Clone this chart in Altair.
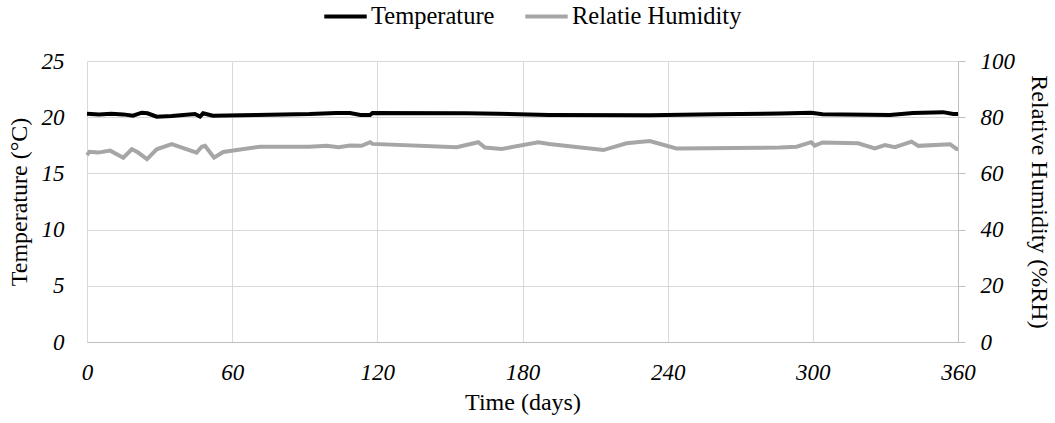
import altair as alt
import pandas as pd

temp_days = [0, 5, 10, 15, 19, 22.6, 25, 28.8, 35, 44.6, 46.7, 48, 52, 70, 92, 103, 108.7, 113, 117, 118,
             157, 170, 191, 232.6, 260, 286.4, 299.3, 304, 331.8, 341.4, 353.8, 358, 360]
temp_vals = [20.3, 20.25, 20.3, 20.25, 20.13, 20.4, 20.35, 20.05, 20.1, 20.28, 20.05, 20.35, 20.13, 20.2, 20.28,
             20.38, 20.38, 20.2, 20.2, 20.38, 20.36, 20.3, 20.2, 20.17, 20.27, 20.33, 20.4, 20.26, 20.2, 20.38,
             20.45, 20.28, 20.28]

rh_days = [0, 1, 4.6, 9.6, 15, 18.5, 21, 24.8, 28.8, 35, 45.3, 47.4, 48.8, 52.5, 56.3, 71.5, 92, 99, 104,
           108.7, 113.5, 117, 118, 152.8, 161.7, 164.5, 171.4, 186.5, 191, 213.4, 223, 232.6, 243.6, 286.4,
           293.3, 299.3, 300.8, 304, 318.7, 325.6, 329.8, 333.9, 340.8, 343.6, 356.7, 359.4, 360]
rh_vals = [66.5, 67.7, 67.4, 68.1, 65.6, 68.6, 67.5, 65.1, 68.6, 70.4, 67.4, 69.5, 69.8, 65.6, 67.6, 69.5,
           69.5, 69.8, 69.3, 69.9, 69.8, 71.1, 70.5, 69.3, 71.1, 69.2, 68.7, 71.1, 70.5, 68.3, 70.7, 71.5,
           68.9, 69.2, 69.5, 71.1, 69.9, 71.0, 70.7, 68.9, 70.1, 69.3, 71.3, 69.8, 70.4, 68.7, 68.7]

x_ticks = [0, 60, 120, 180, 240, 300, 360]
temp_ticks = [0, 5, 10, 15, 20, 25]
rh_ticks = [0, 20, 40, 60, 80, 100]
series = ["Temperature", "Relatie Humidity"]
colors = ["#000000", "#a6a6a6"]

FONT = "Liberation Serif"

tdf = pd.DataFrame({"day": temp_days, "value": temp_vals, "series": series[0]})
hdf = pd.DataFrame({"day": rh_days, "value": rh_vals, "series": series[1]})

x_enc = alt.X("day:Q", scale=alt.Scale(domain=[0, 360], nice=False),
              axis=alt.Axis(values=x_ticks, title="Time (days)", grid=True, gridColor="#d9d9d9",
                            ticks=False, domainColor="#bfbfbf", labelFontStyle="italic",
                            labelFlush=False, labelPadding=19, titlePadding=6))

color_enc = alt.Color("series:N", scale=alt.Scale(domain=series, range=colors),
                      legend=alt.Legend(title=None, orient="none", direction="horizontal",
                                        legendX=235, legendY=-68, symbolType="stroke",
                                        symbolStrokeWidth=4, symbolSize=1800, columnPadding=22,
                                        labelOffset=2, labelFontSize=24.5, labelFont=FONT,
                                        labelColor="#000000", labelLimit=0))

temp_line = alt.Chart(tdf).mark_line(strokeWidth=4).encode(
    x=x_enc,
    y=alt.Y("value:Q", scale=alt.Scale(domain=[0, 25], nice=False),
            axis=alt.Axis(values=temp_ticks, title="Temperature (°C)", grid=True, gridColor="#d9d9d9",
                          domain=False, ticks=False, labelFontStyle="italic", labelPadding=23,
                          titlePadding=10)),
    color=color_enc,
)

rh_line = alt.Chart(hdf).mark_line(strokeWidth=4).encode(
    x=x_enc,
    y=alt.Y("value:Q", scale=alt.Scale(domain=[0, 100], nice=False),
            axis=alt.Axis(values=rh_ticks, orient="right", title="Relative Humidity (%RH)", grid=False,
                          domain=True, domainColor="#bfbfbf", ticks=True, tickColor="#bfbfbf",
                          tickSize=7, labelFontStyle="italic", labelPadding=15, titlePadding=12)),
    color=color_enc,
)

chart = alt.layer(temp_line, rh_line).resolve_scale(y="independent").properties(
    width=871, height=281, autosize="none",
    padding={"left": 87, "top": 61, "right": 97, "bottom": 81},
).configure_view(stroke=None).configure_axis(
    labelFont=FONT, titleFont=FONT, labelFontSize=23, titleFontSize=24,
    labelColor="#000000", titleColor="#000000", titleFontWeight="normal",
)

chart.save("out.html", embed_options={"renderer": "svg", "actions": False})
